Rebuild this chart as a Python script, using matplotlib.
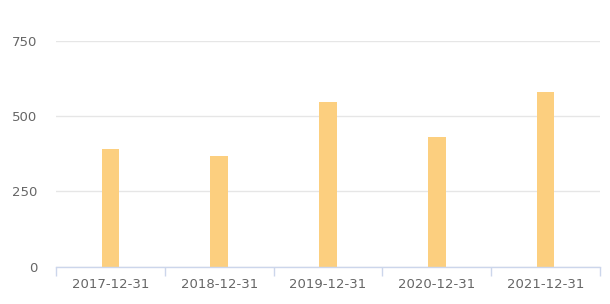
import matplotlib
matplotlib.use("Agg")
import matplotlib.pyplot as plt
import numpy as np

dates = ["2017-12-31", "2018-12-31", "2019-12-31", "2020-12-31", "2021-12-31"]
values = [392, 366, 548, 432, 581]
yticks = [0, 250, 500, 750]

BAR = "#fccf7f"; GRID = "#e6e6e6"; AXIS = "#ccd6eb"; TXT = "#666666"

fig = plt.figure(figsize=(6.10, 3.04), dpi=100)
ax = fig.add_axes([56/610, 1 - 266.7/304, 544/610, 226/304])

x = np.arange(len(dates))
ax.bar(x, values, width=0.16, color=BAR, zorder=3)

ax.set_xlim(-0.5, len(dates) - 0.5)
ax.set_ylim(0, 750)
ax.set_yticks(yticks)
ax.set_yticklabels([str(t) for t in yticks])
ax.grid(axis="y", color=GRID, linewidth=1, zorder=0)
ax.tick_params(axis="y", length=0, pad=13.5, labelsize=9.5, labelcolor=TXT)

ax.set_xticks(x)
ax.set_xticklabels(dates)
ax.tick_params(axis="x", which="major", length=0, pad=8, labelsize=9.5, labelcolor=TXT)
ax.set_xticks(np.arange(len(dates) + 1) - 0.5, minor=True)
ax.tick_params(axis="x", which="minor", length=6.5, width=1, color=AXIS)

for s in ["top", "right", "left"]:
    ax.spines[s].set_visible(False)
ax.spines["bottom"].set_color(AXIS)
ax.spines["bottom"].set_linewidth(1)
ax.spines["bottom"].set_zorder(4)

fig.savefig("out.png", dpi=100, facecolor="white")
